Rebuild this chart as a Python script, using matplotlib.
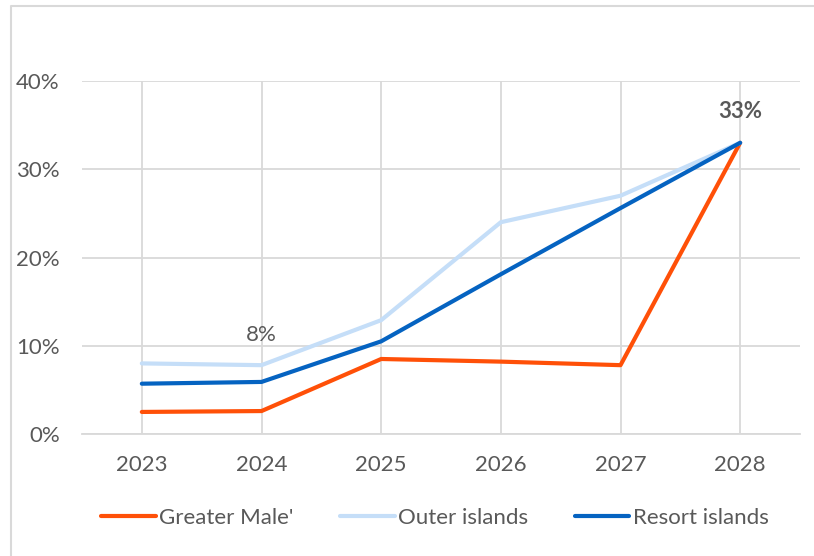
import matplotlib.pyplot as plt
from matplotlib.lines import Line2D
from matplotlib.ticker import PercentFormatter

plt.rcParams['font.family'] = ['Lato', 'DejaVu Sans']

years = ['2023', '2024', '2025', '2026', '2027', '2028']
greater_male = [2.5, 2.6, 8.5, 8.2, 7.8, 33.0]
outer_islands = [8.0, 7.8, 12.9, 24.0, 27.0, 33.0]
resort_islands = [5.7, 5.9, 10.5, 18.1, 25.6, 33.0]

text_col = '#595959'
grid_col = '#D9D9D9'
fs = 16

fig = plt.figure(figsize=(8.14, 5.56), dpi=100)
ax = fig.add_axes([82 / 814, 1 - 434 / 556, 718 / 814, 353 / 556])

x = range(len(years))
ax.plot(x, greater_male, color='#FF5008', lw=3.0, label="Greater Male'", solid_capstyle='round', zorder=3)
ax.plot(x, outer_islands, color='#C5DEF8', lw=3.0, label='Outer islands', solid_capstyle='round', zorder=3)
ax.plot(x, resort_islands, color='#0563C1', lw=3.0, label='Resort islands', solid_capstyle='round', zorder=4)

# data labels
ax.text(1, outer_islands[1] + 2.3, '8%', ha='center', va='bottom', fontsize=fs, color=text_col)
ax.text(5, resort_islands[5] + 2.4, '33%', ha='center', va='bottom', fontsize=fs,
        fontweight='bold', color=text_col, clip_on=False)

ax.set_xlim(-0.5, 5.5)
ax.set_ylim(0, 40)
ax.set_yticks([0, 10, 20, 30, 40])
ax.yaxis.set_major_formatter(PercentFormatter(decimals=0))
ax.set_xticks(list(x))
ax.set_xticklabels(years)
ax.grid(True, color=grid_col, lw=1.3)
ax.set_axisbelow(True)
for s in ['top', 'right', 'left']:
    ax.spines[s].set_visible(False)
ax.spines['bottom'].set_color(grid_col)
ax.spines['bottom'].set_linewidth(1.3)
ax.tick_params(length=0, labelsize=fs, labelcolor=text_col)
ax.tick_params(axis='x', pad=15)
ax.tick_params(axis='y', pad=16)

leg = fig.legend(loc='center', bbox_to_anchor=(435 / 814, 1 - 518 / 556), ncol=3,
                 frameon=False, fontsize=fs, handlelength=2.45, handletextpad=0.15,
                 columnspacing=2.1, labelcolor=text_col)

# chart area border (left and top edge)
fig.add_artist(Line2D([11 / 814, 11 / 814, 1.0], [0.0, 1 - 6 / 556, 1 - 6 / 556],
                      transform=fig.transFigure, color=grid_col, lw=1.5))

fig.savefig('out.png', dpi=100)
